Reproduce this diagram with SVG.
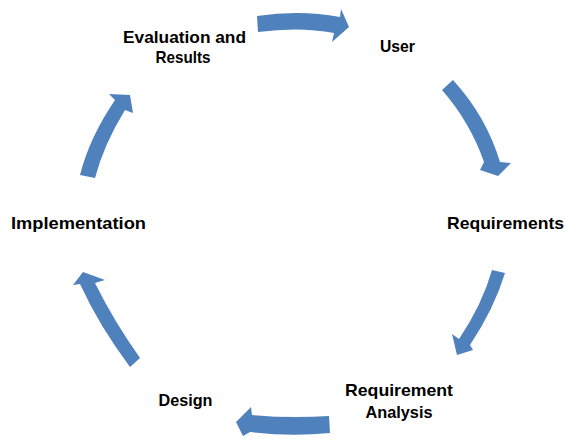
<svg xmlns="http://www.w3.org/2000/svg" width="566" height="439" viewBox="0 0 566 439">
<style>
.lbl{font-family:"Liberation Sans",Arial,sans-serif;font-weight:bold;font-size:17px;fill:#000}
.arr{fill:#4F81BD;stroke:none}
</style>
<rect width="566" height="439" fill="#fff"/>
<g id="connectors">
<path class="arr" d="M257,16 Q300,9.5 340,17 L341,9 L349,27 L332,42 L334,33 Q300,26.5 258,32 Z"/>
<path class="arr" d="M453,80 Q486,116 500,162 L511,163 L498,176 L480,170 L484,162 Q470,122 442,90 Z"/>
<path class="arr" d="M492,270 L505,273 Q494,309 470,345 L473,350 L457,355 L452,334 L459,339 Q482,305 492,270 Z"/>
<path class="arr" d="M329,416 Q290,418.5 252,415 L251,407 L236,422 L243,436 L250,432 Q290,437 330,433 Z"/>
<path class="arr" d="M140,358 Q113.5,320.5 95,283 L105,280 L83,272 L73,285 L80,284 Q99,325.5 130,367 Z"/>
<path class="arr" d="M80,175 Q89.5,137.5 115,100 L109,94 L130,95 L133,113 L125,110 Q104,144 95,178 Z"/>
</g>
<g id="node-evaluation">
<text class="lbl" x="123" y="42.5" textLength="123" lengthAdjust="spacingAndGlyphs">Evaluation and</text>
<text class="lbl" x="155.5" y="62.5" textLength="55" lengthAdjust="spacingAndGlyphs">Results</text>
</g>
<g id="node-user">
<text class="lbl" x="380" y="51.5" textLength="35" lengthAdjust="spacingAndGlyphs">User</text>
</g>
<g id="node-requirements">
<text class="lbl" x="447" y="229" textLength="117" lengthAdjust="spacingAndGlyphs">Requirements</text>
</g>
<g id="node-analysis">
<text class="lbl" x="345" y="395.5" textLength="108" lengthAdjust="spacingAndGlyphs">Requirement</text>
<text class="lbl" x="365.5" y="417.5" textLength="67" lengthAdjust="spacingAndGlyphs">Analysis</text>
</g>
<g id="node-design">
<text class="lbl" x="158.5" y="406" textLength="54" lengthAdjust="spacingAndGlyphs">Design</text>
</g>
<g id="node-implementation">
<text class="lbl" x="11" y="229" textLength="135" lengthAdjust="spacingAndGlyphs">Implementation</text>
</g>
</svg>
